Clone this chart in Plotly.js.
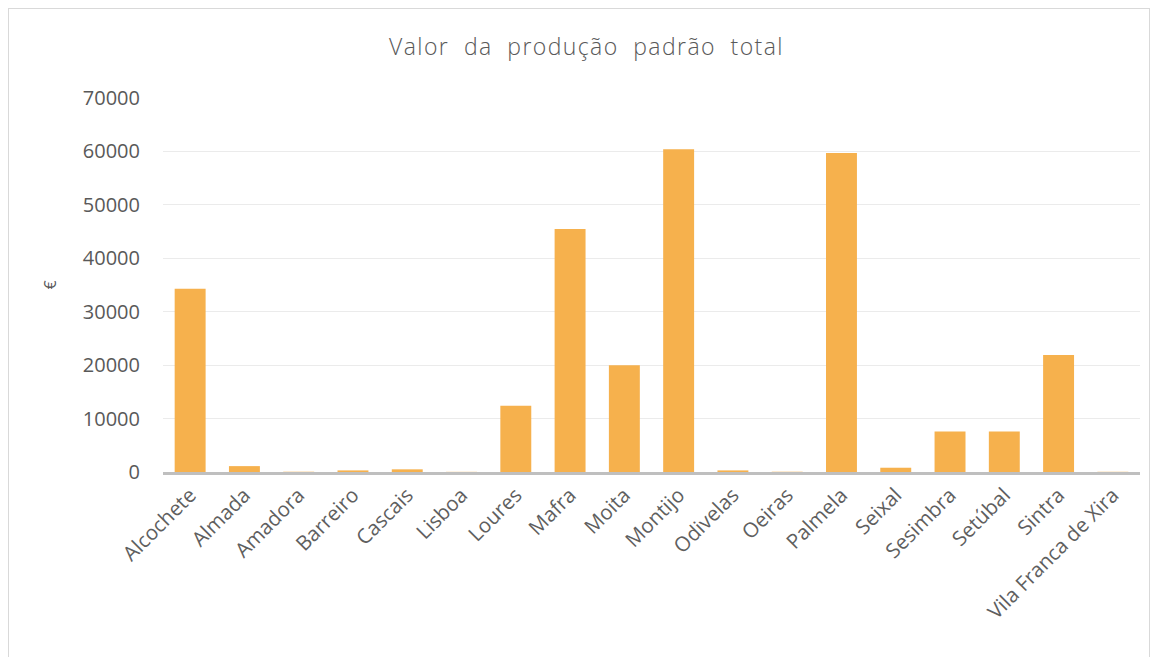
<!DOCTYPE html>
<html>
<head>
<meta charset="utf-8">
<script src="https://cdn.plot.ly/plotly-3.0.1.min.js"></script>
<style>
html,body{margin:0;padding:0;background:#fff;}
#frame{position:absolute;left:8px;top:8px;width:1142px;height:660px;border:1px solid #d9d9d9;box-sizing:border-box;}
#chart{position:absolute;left:0;top:0;width:1159px;height:657px;}
#chart .gtitle{letter-spacing:1.4px;}
</style>
</head>
<body>
<div id="frame"></div>
<div id="chart"></div>
<script>
const categories = ["Alcochete","Almada","Amadora","Barreiro","Cascais","Lisboa","Loures","Mafra","Moita","Montijo","Odivelas","Oeiras","Palmela","Seixal","Sesimbra","Setúbal","Sintra","Vila Franca de Xira"];
const values = [34300, 1100, 50, 300, 500, 30, 12400, 45500, 20000, 60400, 300, 50, 59700, 800, 7600, 7600, 21900, 40];
const yTicks = [0,10000,20000,30000,40000,50000,60000,70000];

const font = "Open Sans, Noto Sans, sans-serif";
Plotly.newPlot('chart', [{
  type: 'bar',
  x: categories,
  y: values,
  marker: {color: '#F6B14D'},
  hoverinfo: 'x+y'
}], {
  width: 1159, height: 657,
  paper_bgcolor: 'rgba(0,0,0,0)',
  plot_bgcolor: 'rgba(0,0,0,0)',
  margin: {l: 163, r: 19, t: 98, b: 185},
  bargap: 0.43,
  title: {text: 'Valor  da  produção  padrão  total', x: 0.506, xanchor: 'center', y: 0.928, yanchor: 'middle',
          font: {family: font, size: 23, color: '#595959', weight: 300}},
  xaxis: {
    tickangle: -45,
    tickfont: {family: font, size: 20.5, color: '#5f5f5f'},
    showline: true, linecolor: '#bfbfbf', linewidth: 3,
    ticks: '', showgrid: false, fixedrange: true
  },
  yaxis: {
    range: [0, 70000],
    tickvals: yTicks,
    ticktext: yTicks.map(String),
    tickfont: {family: font, size: 20, color: '#595959'},
    gridcolor: '#ebebeb', gridwidth: 1,
    zeroline: false, showline: false,
    ticks: '', ticklabelstandoff: 22,
    title: {text: '€', standoff: 22, font: {family: font, size: 16, color: '#595959'}},
    fixedrange: true
  },
  showlegend: false
}, {displayModeBar: false, staticPlot: true});
</script>
</body>
</html>
